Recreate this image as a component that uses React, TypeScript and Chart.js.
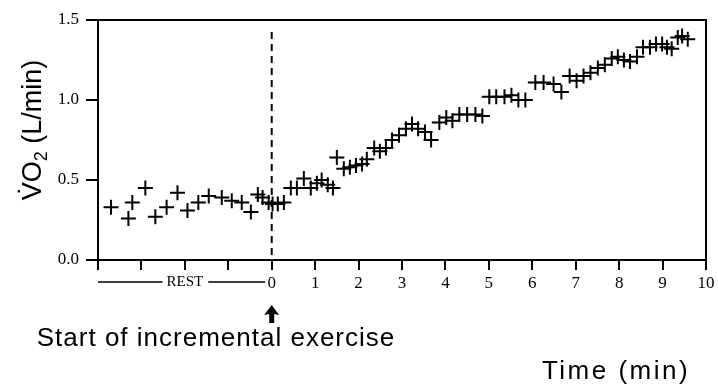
import React, { useEffect, useRef } from 'react';
import { Chart, registerables } from 'chart.js';

Chart.register(...registerables);

// Resting phase (min before start of exercise) and VO2 (L/min)
const restTime = [-3.70, -3.30, -3.21, -2.91, -2.68, -2.42, -2.17, -1.94, -1.69, -1.45, -1.15, -0.92, -0.69, -0.48, -0.32, -0.21, -0.07, 0.02];
const restVO2 = [0.33, 0.26, 0.36, 0.45, 0.27, 0.33, 0.42, 0.31, 0.36, 0.40, 0.39, 0.37, 0.36, 0.30, 0.41, 0.39, 0.36, 0.35];

// Incremental exercise phase
const exTime = [0.14, 0.28, 0.44, 0.58, 0.74, 0.90, 1.04, 1.15, 1.29, 1.41, 1.50, 1.66, 1.80, 1.94, 2.08, 2.19, 2.36, 2.49, 2.63, 2.77, 2.93, 3.09, 3.23, 3.37, 3.53, 3.67, 3.86, 4.02, 4.16, 4.32, 4.50, 4.69, 4.85, 5.01, 5.17, 5.36, 5.52, 5.68, 5.84, 6.07, 6.26, 6.49, 6.67, 6.86, 7.02, 7.18, 7.34, 7.51, 7.67, 7.83, 7.97, 8.11, 8.25, 8.41, 8.55, 8.71, 8.85, 8.99, 9.10, 9.21, 9.35, 9.45, 9.58];
const exVO2 = [0.35, 0.36, 0.45, 0.45, 0.51, 0.45, 0.48, 0.50, 0.47, 0.45, 0.64, 0.57, 0.58, 0.59, 0.60, 0.63, 0.70, 0.68, 0.70, 0.75, 0.78, 0.82, 0.85, 0.82, 0.80, 0.75, 0.86, 0.89, 0.87, 0.91, 0.91, 0.91, 0.90, 1.02, 1.02, 1.02, 1.03, 1.00, 1.00, 1.11, 1.11, 1.10, 1.05, 1.15, 1.12, 1.15, 1.17, 1.20, 1.22, 1.26, 1.27, 1.25, 1.24, 1.27, 1.33, 1.33, 1.35, 1.35, 1.33, 1.32, 1.39, 1.40, 1.38];

// Axis settings / labels
const xMin = -4;
const xMax = 10;
const yMin = 0;
const yMax = 1.5;
const yStep = 0.5;
const restLabel = 'REST';
const startLabel = 'Start of incremental exercise';
const xTitle = 'Time (min)';
const yTitleMain = 'V\u0307O';
const yTitleSub = '2';
const yTitleRest = ' (L/min)';

const SANS = '"Liberation Sans", Arial, sans-serif';
const SERIF = '"Liberation Serif", "Times New Roman", serif';

const annotate = {
  id: 'annotate',
  afterDraw(chart: any) {
    const { ctx, chartArea: a, scales } = chart;
    const xs = scales.x;
    ctx.save();
    ctx.strokeStyle = '#000';
    ctx.fillStyle = '#000';
    ctx.lineWidth = 2;

    // top and right frame
    ctx.beginPath();
    ctx.moveTo(a.left - 1, a.top);
    ctx.lineTo(a.right, a.top);
    ctx.lineTo(a.right, a.bottom + 1);
    ctx.stroke();

    // dashed line at start of exercise
    const x0 = xs.getPixelForValue(0);
    ctx.setLineDash([7, 5]);
    ctx.beginPath();
    ctx.moveTo(x0, a.top + 12);
    ctx.lineTo(x0, a.bottom);
    ctx.stroke();
    ctx.setLineDash([]);

    // REST label with lines
    const ry = a.bottom + 22;
    ctx.font = `15px ${SERIF}`;
    ctx.textAlign = 'center';
    ctx.textBaseline = 'middle';
    const rc = xs.getPixelForValue(-2.0);
    const rw = ctx.measureText(restLabel).width;
    ctx.fillText(restLabel, rc, ry);
    ctx.lineWidth = 1.5;
    ctx.beginPath();
    ctx.moveTo(xs.getPixelForValue(xMin), ry);
    ctx.lineTo(rc - rw / 2 - 4, ry);
    ctx.moveTo(rc + rw / 2 + 5, ry);
    ctx.lineTo(xs.getPixelForValue(-0.15), ry);
    ctx.stroke();

    // arrow
    const tip = a.bottom + 45;
    ctx.beginPath();
    ctx.moveTo(x0, tip);
    ctx.lineTo(x0 - 7.5, tip + 10);
    ctx.lineTo(x0 - 2.5, tip + 9);
    ctx.lineTo(x0 - 2.5, tip + 18);
    ctx.lineTo(x0 + 2.5, tip + 18);
    ctx.lineTo(x0 + 2.5, tip + 9);
    ctx.lineTo(x0 + 7.5, tip + 10);
    ctx.closePath();
    ctx.fill();

    // bottom texts
    ctx.font = `26px ${SANS}`;
    ctx.textAlign = 'center';
    ctx.textBaseline = 'alphabetic';
    (ctx as any).letterSpacing = '1px';
    ctx.fillText(startLabel, 216, 346);
    (ctx as any).letterSpacing = '2.5px';
    ctx.fillText(xTitle, 616, 379);
    (ctx as any).letterSpacing = '0px';

    // y title (rotated)
    ctx.translate(31, 130);
    ctx.rotate(-Math.PI / 2);
    const big = `27px ${SANS}`;
    const small = `18px ${SANS}`;
    ctx.font = big;
    const w1 = ctx.measureText(yTitleMain).width;
    const w3 = ctx.measureText(yTitleRest).width;
    ctx.font = small;
    const w2 = ctx.measureText(yTitleSub).width;
    let sx = -(w1 + w2 + w3) / 2;
    ctx.textAlign = 'left';
    ctx.textBaseline = 'alphabetic';
    ctx.font = big;
    ctx.fillText(yTitleMain, sx, 10);
    sx += w1;
    ctx.font = small;
    ctx.fillText(yTitleSub, sx, 16);
    sx += w2;
    ctx.font = big;
    ctx.fillText(yTitleRest, sx, 10);

    ctx.restore();
  },
};

export default function App() {
  const ref = useRef<HTMLCanvasElement | null>(null);

  useEffect(() => {
    if (!ref.current) return;
    const points = [
      ...restTime.map((t, i) => ({ x: t, y: restVO2[i] })),
      ...exTime.map((t, i) => ({ x: t, y: exVO2[i] })),
    ];
    const chart = new Chart(ref.current, {
      type: 'scatter',
      data: {
        datasets: [
          {
            label: 'VO2',
            data: points,
            pointStyle: 'cross',
            pointRadius: 7.5,
            pointBorderWidth: 2,
            borderColor: '#000',
            backgroundColor: '#000',
            showLine: false,
          },
        ],
      },
      options: {
        animation: false,
        responsive: true,
        maintainAspectRatio: false,
        layout: { padding: { left: 0, right: 12, top: 20, bottom: 0 } },
        plugins: {
          legend: { display: false },
          tooltip: { enabled: false },
        },
        scales: {
          x: {
            type: 'linear',
            min: xMin,
            max: xMax,
            afterFit: (s: any) => {
              s.height = 127;
            },
            grid: {
              drawOnChartArea: false,
              drawTicks: true,
              tickLength: 10,
              color: '#000',
              lineWidth: 2,
            },
            border: { display: true, color: '#000', width: 2 },
            ticks: {
              stepSize: 1,
              padding: 3,
              color: '#000',
              font: { family: SERIF, size: 17 },
              maxRotation: 0,
              autoSkip: false,
              callback: (v: any) => (Number(v) >= 0 ? String(v) : ''),
            },
          },
          y: {
            type: 'linear',
            min: yMin,
            max: yMax,
            afterFit: (s: any) => {
              s.width = 98;
            },
            grid: {
              drawOnChartArea: false,
              drawTicks: true,
              tickLength: 12,
              color: '#000',
              lineWidth: 2,
            },
            border: { display: true, color: '#000', width: 2 },
            ticks: {
              stepSize: yStep,
              padding: 7,
              color: '#000',
              font: { family: SERIF, size: 17 },
              callback: (v: any) => Number(v).toFixed(1),
            },
          },
        },
      },
      plugins: [annotate],
    });
    return () => chart.destroy();
  }, []);

  return (
    <div style={{ position: 'absolute', left: 0, top: 0, width: 718, height: 387, background: '#fff' }}>
      <canvas ref={ref} />
    </div>
  );
}
